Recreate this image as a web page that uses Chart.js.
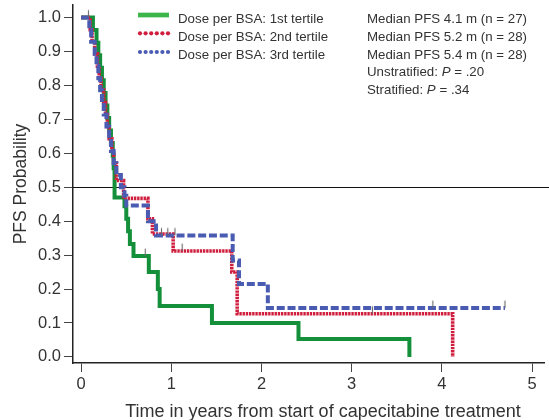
<!DOCTYPE html>
<html>
<head>
<meta charset="utf-8">
<script src="https://cdn.jsdelivr.net/npm/chart.js@4.4.1/dist/chart.umd.min.js"></script>
<style>
  html, body { margin: 0; padding: 0; background: #fff; }
  #wrap { width: 549px; height: 420px; }
</style>
</head>
<body>
<div id="wrap"><canvas id="myChart" width="549" height="420"></canvas></div>
<script>
// axis ticks
const xTicks = [0, 1, 2, 3, 4, 5];
const yTicks = [0, 0.1, 0.2, 0.3, 0.4, 0.5, 0.6, 0.7, 0.8, 0.9, 1.0];
const refLevel = 0.5;

// Kaplan-Meier steps: time (years) where the curve drops, and the new probability
const tertile1Time = [0, 0.13, 0.17, 0.19, 0.21, 0.23, 0.25, 0.27, 0.29, 0.31, 0.33, 0.35, 0.36, 0.37, 0.48, 0.50, 0.52, 0.54, 0.58, 0.75, 0.85, 0.87, 1.45, 2.41, 3.64];
const tertile1Surv = [1.0, 0.963, 0.926, 0.889, 0.852, 0.815, 0.778, 0.741, 0.704, 0.667, 0.630, 0.593, 0.556, 0.47, 0.444, 0.407, 0.370, 0.333, 0.297, 0.25, 0.20, 0.15, 0.10, 0.053, 0.0];

const tertile2Time = [0, 0.10, 0.12, 0.15, 0.18, 0.20, 0.22, 0.25, 0.27, 0.29, 0.31, 0.34, 0.36, 0.39, 0.47, 0.74, 0.79, 1.02, 1.67, 1.73, 4.12];
const tertile2Surv = [1.0, 0.964, 0.929, 0.893, 0.857, 0.821, 0.786, 0.750, 0.714, 0.679, 0.643, 0.607, 0.571, 0.52, 0.467, 0.407, 0.362, 0.312, 0.25, 0.127, 0.0];

const tertile3Time = [0, 0.09, 0.11, 0.15, 0.17, 0.19, 0.21, 0.23, 0.25, 0.28, 0.31, 0.33, 0.36, 0.39, 0.44, 0.48, 0.50, 0.74, 0.83, 1.68, 1.75, 2.07, 4.70];
const tertile3Surv = [1.0, 0.964, 0.929, 0.893, 0.857, 0.821, 0.786, 0.750, 0.714, 0.679, 0.643, 0.607, 0.571, 0.536, 0.500, 0.475, 0.446, 0.400, 0.358, 0.284, 0.215, 0.144, 0.144];

// censoring marks
const censorTime = [0.08, 0.71, 0.89, 0.96, 1.04, 1.12, 3.23, 3.90, 4.70];
const censorSurv = [1.0, 0.297, 0.358, 0.358, 0.358, 0.312, 0.127, 0.144, 0.144];

const legendLabels = ['Dose per BSA: 1st tertile', 'Dose per BSA: 2nd tertile', 'Dose per BSA: 3rd tertile'];
const medianLabels = ['Median PFS 4.1 m (n = 27)', 'Median PFS 5.2 m (n = 28)', 'Median PFS 5.4 m (n = 28)'];
const pLabels = [['Unstratified: ', 'P', ' = .20'], ['Stratified: ', 'P', ' = .34']];
const xTitle = 'Time in years from start of capecitabine treatment';
const yTitle = 'PFS Probability';

const FONT = '"Liberation Sans", Arial, Helvetica, sans-serif';
const TEXT = '#333';
const green = '#14903a';
const red = '#d01f3e';
const blue = '#4a5bb2';

const toPoints = (t, s) => t.map((v, i) => ({ x: v, y: s[i] }));

// little upward tick used for censored observations
const censorMark = document.createElement('canvas');
censorMark.width = 3;
censorMark.height = 18;
(function() {
	const c = censorMark.getContext('2d');
	c.strokeStyle = '#6a6a6a';
	c.lineWidth = 1.1;
	c.beginPath();
	c.moveTo(1.5, 1.5);
	c.lineTo(1.5, 9);
	c.stroke();
})();

const annotate = {
	id: 'annotate',
	beforeDatasetsDraw(chart) {
		const { ctx, chartArea, scales } = chart;
		const y = Math.round(scales.y.getPixelForValue(refLevel)) + 0.5;
		ctx.save();
		ctx.strokeStyle = '#111';
		ctx.lineWidth = 1;
		ctx.beginPath();
		ctx.moveTo(chartArea.left, y);
		ctx.lineTo(chart.width, y);
		ctx.stroke();
		ctx.restore();
	},
	afterDraw(chart) {
		const { ctx } = chart;
		ctx.save();
		// legend samples
		const sampleY = [15, 33.3, 52];
		ctx.lineWidth = 4.7;
		ctx.strokeStyle = '#3cb54a';
		ctx.beginPath();
		ctx.moveTo(138, sampleY[0]);
		ctx.lineTo(169, sampleY[0]);
		ctx.stroke();
		[red, blue].forEach((col, k) => {
			ctx.fillStyle = col;
			for (let i = 0; i < 6; i++) {
				ctx.beginPath();
				ctx.arc(140 + i * 5.6, sampleY[k + 1], 2.1, 0, Math.PI * 2);
				ctx.fill();
			}
		});
		// texts
		const base = [23, 40.8, 58.6, 76.4, 94.2];
		ctx.fillStyle = TEXT;
		ctx.textBaseline = 'alphabetic';
		ctx.textAlign = 'left';
		ctx.font = '13.3px ' + FONT;
		legendLabels.forEach((t, i) => ctx.fillText(t, 178, base[i]));
		medianLabels.forEach((t, i) => ctx.fillText(t, 367, base[i]));
		pLabels.forEach((parts, i) => {
			let x = 367;
			parts.forEach((p, j) => {
				ctx.font = (j === 1 ? 'italic ' : '') + '13.3px ' + FONT;
				ctx.fillText(p, x, base[i + 3]);
				x += ctx.measureText(p).width;
			});
		});
		// x axis title
		ctx.font = '18px ' + FONT;
		ctx.textAlign = 'center';
		ctx.fillText(xTitle, 323, 416.5);
		ctx.restore();
	},
};

const lineSet = (label, t, s, color, width, dash, order) => ({
	label,
	data: toPoints(t, s),
	borderColor: color,
	borderWidth: width,
	borderDash: dash,
	stepped: 'before',
	pointRadius: 0,
	fill: false,
	order,
});

new Chart(document.getElementById('myChart'), {
	type: 'line',
	data: {
		datasets: [
			lineSet(legendLabels[0], tertile1Time, tertile1Surv, green, 4, [], 3),
			lineSet(legendLabels[1], tertile2Time, tertile2Surv, red, 3.6, [2.4, 0.8], 2),
			lineSet(legendLabels[2], tertile3Time, tertile3Surv, blue, 4, [8, 2.8], 1),
			{
				type: 'scatter',
				label: 'censored',
				data: toPoints(censorTime, censorSurv),
				pointStyle: censorMark,
				showLine: false,
				order: 0,
			},
		],
	},
	options: {
		responsive: false,
		animation: false,
		devicePixelRatio: 1,
		layout: { padding: { top: 0, right: 4, bottom: 0, left: 0 } },
		plugins: { legend: { display: false }, tooltip: { enabled: false } },
		scales: {
			x: {
				type: 'linear',
				min: -0.091,
				max: 5.133,
				afterBuildTicks: s => { s.ticks = xTicks.map(v => ({ value: v })); },
				afterFit: s => { s.height = 57; s.paddingLeft = 0; s.paddingRight = 0; },
				grid: { display: true, drawOnChartArea: false, drawTicks: true, tickLength: 9, color: '#444' },
				border: { display: true, color: '#222', width: 1.5 },
				ticks: {
					font: { family: FONT, size: 16.5 },
					color: TEXT,
					padding: 3,
					maxRotation: 0,
					autoSkip: false,
					callback: v => String(v),
				},
			},
			y: {
				min: -0.018,
				max: 1.037,
				afterBuildTicks: s => { s.ticks = yTicks.map(v => ({ value: v })); },
				afterFit: s => { s.width = 73; s.paddingTop = 0; s.paddingBottom = 0; },
				grid: { display: true, drawOnChartArea: false, drawTicks: true, tickLength: 9, color: '#444' },
				border: { display: true, color: '#222', width: 1.5 },
				title: {
					display: true,
					text: yTitle,
					color: TEXT,
					font: { family: FONT, size: 17.5 },
					padding: { top: 11, bottom: 0 },
				},
				ticks: {
					font: { family: FONT, size: 16.5 },
					color: TEXT,
					padding: 3,
					autoSkip: false,
					callback: v => v.toFixed(1),
				},
			},
		},
	},
	plugins: [annotate],
});
</script>
</body>
</html>
